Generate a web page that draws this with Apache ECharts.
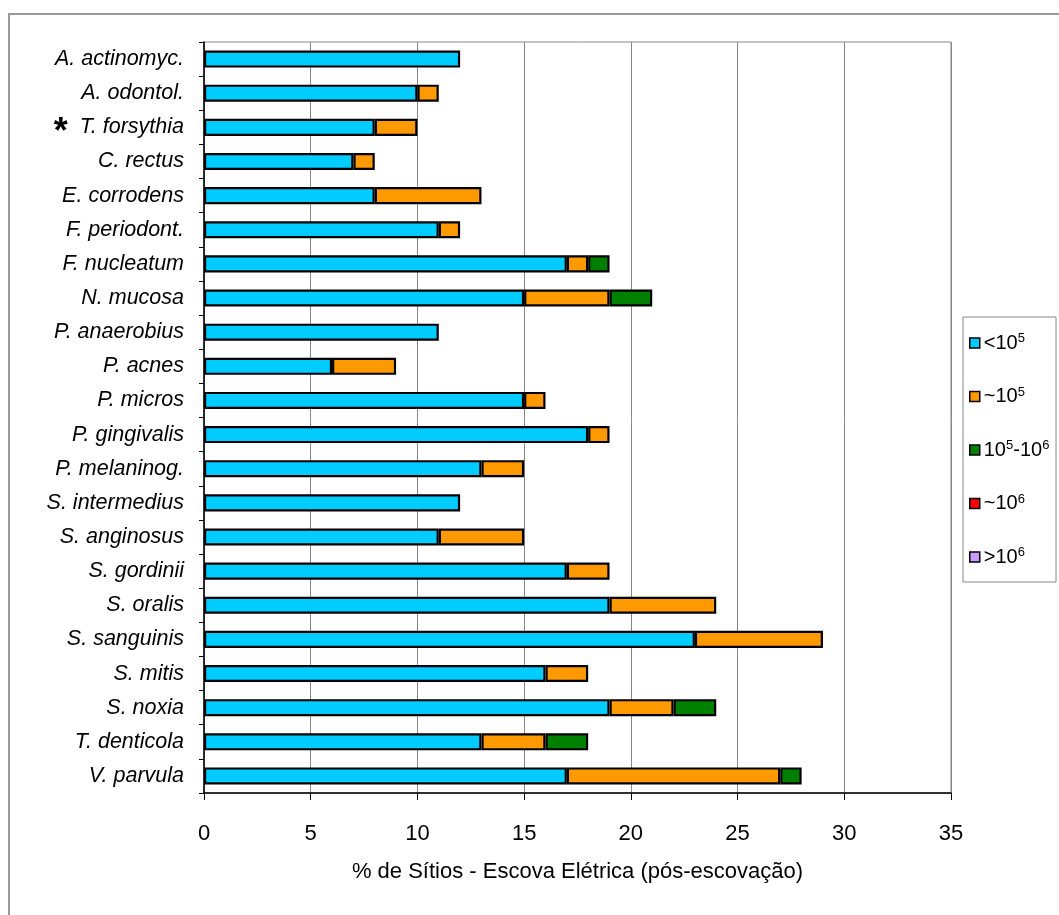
<!DOCTYPE html>
<html>
<head>
<meta charset="utf-8">
<script src="https://cdn.jsdelivr.net/npm/echarts@6/dist/echarts.min.js"></script>
<style>html,body{margin:0;padding:0;background:#fff}#c{width:1059px;height:915px}</style>
</head>
<body>
<div id="c"></div>
<script>
const categories = ['A. actinomyc.','A. odontol.','T. forsythia','C. rectus','E. corrodens','F. periodont.','F. nucleatum','N. mucosa','P. anaerobius','P. acnes','P. micros','P. gingivalis','P. melaninog.','S. intermedius','S. anginosus','S. gordinii','S. oralis','S. sanguinis','S. mitis','S. noxia','T. denticola','V. parvula'];
const starred = ['T. forsythia'];
const below105 = [12,10,8,7,8,11,17,15,11,6,15,18,13,12,11,17,19,23,16,19,13,17];
const about105 = [0,1,2,1,5,1,1,4,0,3,1,1,2,0,4,2,5,6,2,3,3,10];
const range105to106 = [0,0,0,0,0,0,1,2,0,0,0,0,0,0,0,0,0,0,0,2,2,1];
const about106 = [0,0,0,0,0,0,0,0,0,0,0,0,0,0,0,0,0,0,0,0,0,0];
const above106 = [0,0,0,0,0,0,0,0,0,0,0,0,0,0,0,0,0,0,0,0,0,0];
const seriesNames = ['<10^5','~10^5','10^5-10^6','~10^6','>10^6'];
const seriesColors = ['#00CCFF','#FF9900','#008000','#FF0000','#CC99FF'];
const xTicks = [0,5,10,15,20,25,30,35];

const allData = [below105, about105, range105to106, about106, above106];
const FONT = 'Liberation Sans, Arial, sans-serif';

const chart = echarts.init(document.getElementById('c'));
chart.setOption({
  animation: false,
  backgroundColor: '#fff',
  graphic: [
    {type:'rect', shape:{x:9, y:14, width:1200, height:1000}, style:{fill:'none', stroke:'#999', lineWidth:2}, z:0},
    {type:'rect', shape:{x:963, y:317, width:93, height:265}, style:{fill:'#fff', stroke:'#888', lineWidth:1}, z:1}
  ],
  grid: {left:204, right:108, top:42, bottom:122, show:true, borderColor:'#888', borderWidth:1},
  legend: {
    orient:'vertical', left:964, top:330, padding:[2,0,2,5], itemWidth:10, itemHeight:10, itemGap:31.5,
    icon:'rect', z:5,
    textStyle:{fontFamily:FONT, fontSize:20, color:'#000', lineHeight:22, padding:[0,0,0,-1],
      rich:{n:{fontSize:20, fontFamily:FONT, color:'#000', lineHeight:22},
            s:{fontSize:13, fontFamily:FONT, color:'#000', lineHeight:22, verticalAlign:'top', padding:[0,0,9,0]}}},
    itemStyle:{borderColor:'#000', borderWidth:1.5},
    formatter: function(name){
      return name.split(/\^(\d)/).map((p,i)=> p===''?'' : (i%2? '{s|'+p+'}' : '{n|'+p+'}')).join('');
    },
    data: seriesNames
  },
  xAxis: {
    type:'value', min:0, max:35, interval:5,
    axisLine:{show:true, lineStyle:{color:'#000', width:1.5}},
    axisTick:{show:true, length:7, lineStyle:{color:'#000'}},
    splitLine:{show:true, lineStyle:{color:'#888', width:1}},
    axisLabel:{fontFamily:FONT, fontSize:22, color:'#000', margin:30,
      customValues: xTicks},
    name:'% de Sítios - Escova Elétrica (pós-escovação)',
    nameLocation:'middle', nameGap:68,
    nameTextStyle:{fontFamily:FONT, fontSize:22, color:'#000'}
  },
  yAxis: {
    type:'category', inverse:true, data:categories,
    axisLine:{show:true, lineStyle:{color:'#000', width:1.5}},
    axisTick:{show:true, length:5, alignWithLabel:false, lineStyle:{color:'#000'}},
    axisLabel:{fontFamily:FONT, fontSize:21.5, fontStyle:'italic', color:'#000', margin:20,
      formatter: function(v){ return starred.indexOf(v)>=0 ? '{st|*}  '+v : v; },
      rich:{st:{fontFamily:FONT, fontSize:36, fontWeight:'bold', fontStyle:'normal', color:'#000', padding:[12,0,0,0]}}}
  },
  series: allData.map((d,i)=>({
    name: seriesNames[i], type:'bar', stack:'total', barWidth:'50%',
    itemStyle:{color:seriesColors[i], borderColor:'#000', borderWidth:2.2},
    data: d.map(v=> v===0 ? '-' : v)
  }))
});
</script>
</body>
</html>
